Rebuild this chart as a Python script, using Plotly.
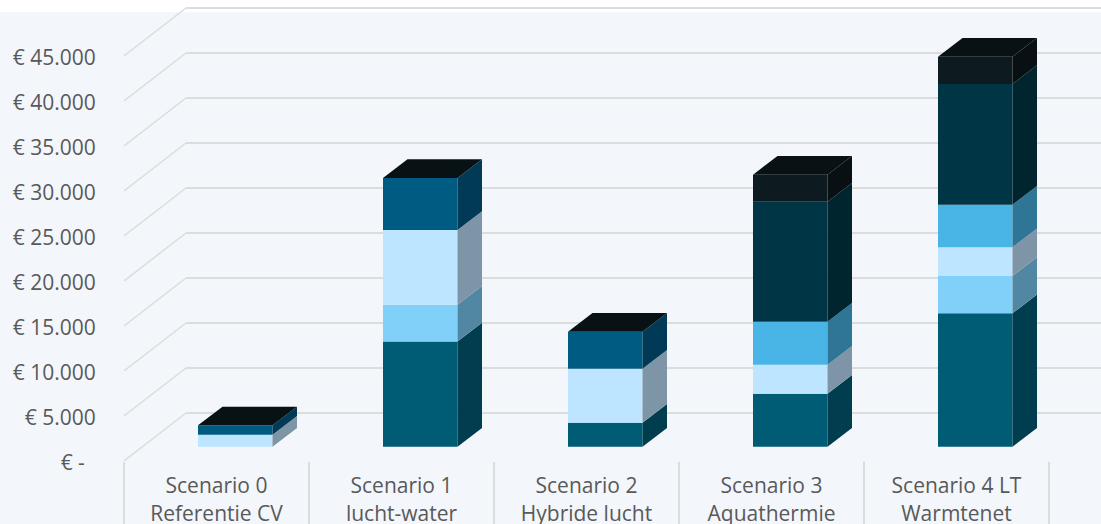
import plotly.graph_objects as go

# ---- data ----
scenario_line1 = ["Scenario 0", "Scenario 1", "Scenario 2", "Scenario 3", "Scenario 4 LT"]
scenario_line2 = ["Referentie CV", "lucht-water", "Hybride lucht", "Aquathermie", "Warmtenet"]
y_ticks = [0, 5000, 10000, 15000, 20000, 25000, 30000, 35000, 40000, 45000]
y_labels = ["€ -\u00a0\u00a0", "€ 5.000", "€ 10.000", "€ 15.000", "€ 20.000", "€ 25.000",
            "€ 30.000", "€ 35.000", "€ 40.000", "€ 45.000"]

serie_a = [0, 11700, 2670, 5890, 14820]
serie_b = [0, 4080, 0, 0, 4150]
serie_c = [1330, 8300, 6000, 3220, 3190]
serie_d = [0, 0, 0, 4780, 4730]
serie_e = [1040, 5780, 4110, 0, 0]
serie_f = [0, 0, 0, 13330, 13410]
serie_g = [0, 0, 0, 3000, 3030]

series = [serie_a, serie_b, serie_c, serie_d, serie_e, serie_f, serie_g]
front_colors = ["#005C75", "#80D0F9", "#BDE5FF", "#48B5E6", "#005B83", "#003545", "#0D1A20"]
side_colors = ["#003E4F", "#5287A3", "#7D95A6", "#2F7696", "#003A57", "#00252E", "#081013"]
top_color = "#081215"

# ---- scales: pixels per category / per euro, used only to express the 3D projection ----
PX_CAT = 185.0
PX_EUR = 45.0 / 5000.0
positions = list(range(len(series[0])))
x_range = [-0.5, (1101 - 216.5) / PX_CAT]
y_range = [0, 461 / PX_EUR]
wall_dx, wall_dy = 62 / PX_CAT, 48 / PX_EUR
bar_lift_x, bar_lift_y = 18.75 / PX_CAT, 14.3 / PX_EUR
depth_dx, depth_dy = 24.5 / PX_CAT, 18.7 / PX_EUR
bar_width = 74.5 / PX_CAT

fig = go.Figure()

# front faces + side faces
cum = [bar_lift_y] * len(positions)
for vals, fc, sc in zip(series, front_colors, side_colors):
    bases = list(cum)
    fig.add_trace(go.Bar(x=[p + bar_lift_x for p in positions], y=vals, base=bases, width=bar_width,
                         marker=dict(color=fc, line=dict(width=0)), showlegend=False))
    xs, ys = [], []
    for p, b, v in zip(positions, bases, vals):
        if v > 0:
            xr = p + bar_lift_x + bar_width / 2
            xs += [xr, xr + depth_dx, xr + depth_dx, xr, xr, None]
            ys += [b, b + depth_dy, b + v + depth_dy, b + v, b, None]
    fig.add_trace(go.Scatter(x=xs, y=ys, mode="lines", fill="toself", fillcolor=sc,
                             line=dict(width=0, color=sc), showlegend=False, hoverinfo="skip"))
    cum = [c + v for c, v in zip(cum, vals)]

# top faces
xs, ys = [], []
for p, t in zip(positions, cum):
    xl = p + bar_lift_x - bar_width / 2
    xr = p + bar_lift_x + bar_width / 2
    xs += [xl, xr, xr + depth_dx, xl + depth_dx, xl, None]
    ys += [t, t, t + depth_dy, t + depth_dy, t, None]
fig.add_trace(go.Scatter(x=xs, y=ys, mode="lines", fill="toself", fillcolor=top_color,
                         line=dict(width=0, color=top_color), showlegend=False, hoverinfo="skip"))

# invisible traces so the overlay axes are drawn
for ax in ("x2", "x3"):
    fig.add_trace(go.Scatter(x=positions, y=[None] * len(positions), xaxis=ax, yaxis="y",
                             showlegend=False, hoverinfo="skip"))

# back wall + floor grid lines
shapes = [dict(type="rect", xref="paper", yref="paper", x0=-0.2, x1=1.0,
               y0=(461 - 12) / 461, y1=1.0, fillcolor="#FFFFFF", line=dict(width=0), layer="below")]
GRID = "#DCDCDC"
for v in y_ticks:
    shapes.append(dict(type="line", xref="x", yref="y", x0=x_range[0], y0=v,
                       x1=x_range[0] + wall_dx, y1=v + wall_dy,
                       line=dict(color=GRID, width=1.5), layer="below"))
    shapes.append(dict(type="line", xref="x", yref="y", x0=x_range[0] + wall_dx, y0=v + wall_dy,
                       x1=x_range[1], y1=v + wall_dy,
                       line=dict(color=GRID, width=2), layer="below"))

FONT = dict(family="Open Sans", size=21, color="#595959")
common = dict(range=x_range, showgrid=False, zeroline=False, showline=False, fixedrange=True, automargin=False)
fig.update_layout(
    width=1101, height=524, autosize=False,
    margin=dict(l=124, r=0, t=0, b=63, pad=0),
    paper_bgcolor="#F3F6FB", plot_bgcolor="rgba(0,0,0,0)",
    barmode="overlay", showlegend=False, shapes=shapes, font=FONT,
    xaxis=dict(tickmode="array", tickvals=positions, ticktext=scenario_line1, ticks="outside",
               ticklen=6, tickcolor="rgba(0,0,0,0)", tickfont=FONT, **common),
    xaxis2=dict(overlaying="x", anchor="y", side="bottom", tickmode="array", tickvals=positions,
                ticktext=scenario_line2, ticks="outside", ticklen=34, tickcolor="rgba(0,0,0,0)",
                tickfont=FONT, **common),
    xaxis3=dict(overlaying="x", anchor="y", side="bottom", tickmode="array",
                tickvals=[p - 0.5 for p in positions] + [positions[-1] + 0.5],
                ticks="outside", ticklen=63, tickcolor=GRID, tickwidth=1.5, showticklabels=False, **common),
    yaxis=dict(range=y_range, tickmode="array", tickvals=y_ticks, ticktext=y_labels, ticks="outside",
               ticklen=23, tickcolor="rgba(0,0,0,0)", tickfont=FONT, ticklabelshift=2, showgrid=False,
               zeroline=False, showline=False, fixedrange=True, automargin=False),
)
fig.write_html("out.html", post_script="document.body.style.margin='0';", config=dict(displayModeBar=False))
